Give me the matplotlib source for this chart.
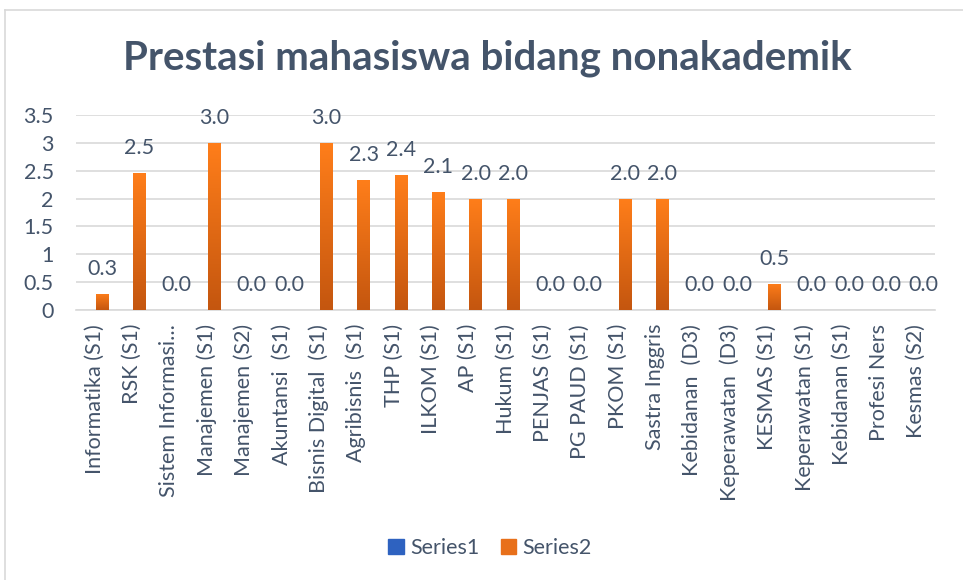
import matplotlib
matplotlib.use("Agg")
import matplotlib.pyplot as plt
import numpy as np
from matplotlib.colors import LinearSegmentedColormap
from matplotlib.lines import Line2D

categories = ["Informatika (S1)", "RSK (S1)", "Sistem Informasi...", "Manajemen (S1)",
              "Manajemen (S2)", "Akuntansi  (S1)", "Bisnis Digital  (S1)", "Agribisnis  (S1)",
              "THP (S1)", "ILKOM (S1)", "AP (S1)", "Hukum (S1)", "PENJAS (S1)", "PG PAUD (S1)",
              "PKOM (S1)", "Sastra Inggris", "Kebidanan  (D3)", "Keperawatan  (D3)",
              "KESMAS (S1)", "Keperawatan (S1)", "Kebidanan (S1)", "Profesi Ners", "Kesmas (S2)"]
series1 = [0] * 23
series2 = [0.29, 2.46, 0.0, 3.0, 0.0, 0.0, 3.0, 2.33, 2.42, 2.12, 2.0, 2.0, 0.0, 0.0,
           2.0, 2.0, 0.0, 0.0, 0.47, 0.0, 0.0, 0.0, 0.0]
yticks = [0, 0.5, 1, 1.5, 2, 2.5, 3, 3.5]
ytick_labels = ["0", "0.5", "1", "1.5", "2", "2.5", "3", "3.5"]

FONT = "Lato"
TXT = "#44546A"
FS = 15.5
plt.rcParams['font.family'] = [FONT, 'DejaVu Sans']

fig = plt.figure(figsize=(9.63, 5.8), dpi=100)
ax = fig.add_axes([76/963, 1 - 310/580, (935-76)/963, (310-115)/580])

x = np.arange(len(categories))
w = 0.33
off = 0.2
b1 = ax.bar(x - off, series1, w, color="#2E62C0", zorder=2)
b2 = ax.bar(x + off, series2, w, color="#E8701A", zorder=2)

# gradient fill for series2
cmap2 = LinearSegmentedColormap.from_list("og", ["#C4560F", "#FF7E1A"])
grad = np.linspace(0, 1, 256).reshape(-1, 1)
for r in b2:
    h = r.get_height()
    if h <= 0:
        continue
    x0 = r.get_x()
    im = ax.imshow(grad, extent=[x0, x0 + r.get_width(), 0, h], origin="lower",
                   cmap=cmap2, aspect="auto", zorder=3)
    im.set_clip_path(r)

for xi, v in zip(x, series2):
    ax.text(xi + off, v + 0.45, f"{v:.1f}", ha="center", va="center",
            fontsize=FS, color=TXT, zorder=4)

ax.set_xlim(-0.5, len(categories) - 0.5)
ax.set_ylim(0, 3.5)
ax.set_yticks(yticks)
ax.set_yticklabels(ytick_labels, fontsize=FS, color=TXT)
ax.set_xticks(x)
ax.set_xticklabels(categories, rotation=90, fontsize=FS, color=TXT)
ax.tick_params(axis="both", length=0)
ax.tick_params(axis="y", pad=16)
ax.tick_params(axis="x", pad=10)
ax.grid(axis="y", color="#D9D9D9", linewidth=1.2, zorder=0)
ax.set_axisbelow(True)
for s in ["top", "right", "left"]:
    ax.spines[s].set_visible(False)
ax.spines["bottom"].set_color("#D9D9D9")
ax.spines["bottom"].set_linewidth(1.2)

fig.text(487/963, 1 - 58/580, "Prestasi mahasiswa bidang nonakademik", ha="center", va="center",
         fontsize=29, fontweight="bold", color=TXT)

handles = [plt.Rectangle((0, 0), 1, 1, color="#2E62C0"), plt.Rectangle((0, 0), 1, 1, color="#E8701A")]
fig.legend(handles, ["Series1", "Series2"], loc="center", bbox_to_anchor=(490/963, 1 - 548/580),
           ncol=2, frameon=False, fontsize=FS, labelcolor=TXT, handlelength=0.7,
           handleheight=0.7, handletextpad=0.3, columnspacing=1.0)

# chart border (left and top visible)
fig.add_artist(Line2D([5/963, 5/963], [0, 1 - 10/580], transform=fig.transFigure, color="#D9D9D9", lw=1.2))
fig.add_artist(Line2D([5/963, 1], [1 - 10/580, 1 - 10/580], transform=fig.transFigure, color="#D9D9D9", lw=1.2))

fig.savefig("out.png", dpi=100)
